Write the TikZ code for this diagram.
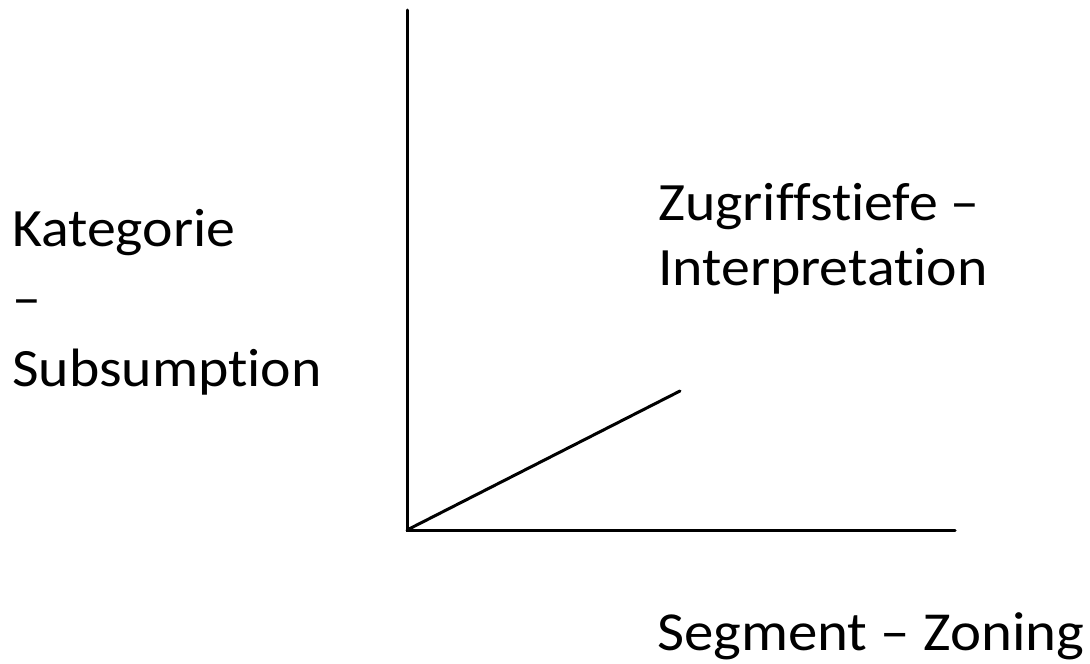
\documentclass[tikz,border=0pt]{standalone}
\usepackage{fontspec}
\setmainfont{Carlito}[Ligatures=NoCommon, FakeStretch=1.07]
\begin{document}
\begin{tikzpicture}[
  x=1pt, y=-1pt,
  axis/.style={line width=3pt, line cap=round},
  lbl/.style={inner sep=0pt, align=left, anchor=base west},
]
\useasboundingbox (0,0) rectangle (1090,664);

% --- axes from the common origin ---
\coordinate (origin) at (407,530);
\coordinate (ytop) at (407,10);
\coordinate (xend) at (955,530);
\coordinate (zend) at (680,391);

\draw[axis] (ytop) -- (origin) -- (xend);
\draw[axis] (origin) -- (zend);

% --- axis labels (base = last line) ---
\node[lbl, font=\fontsize{54}{70}\selectfont] (kat) at (12,386) {Kategorie\\–\\Subsumption};
\node[lbl, font=\fontsize{54}{65}\selectfont] (zug) at (658,285) {Zugriffstiefe –\\Interpretation};
\node[lbl, font=\fontsize{55}{65}\selectfont] (seg) at (657,650) {Segment – Zoning};
\end{tikzpicture}
\end{document}
